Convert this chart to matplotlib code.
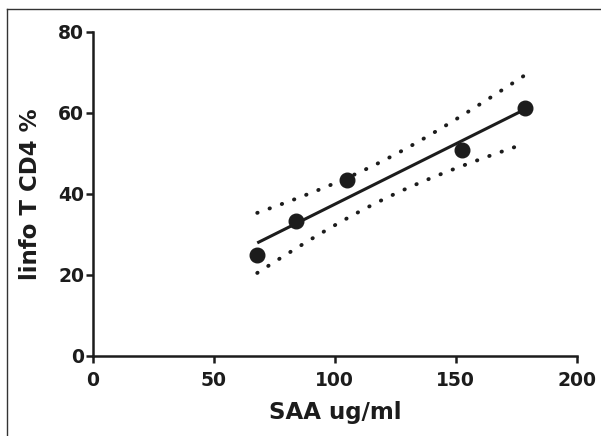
import numpy as np
import matplotlib
matplotlib.use("Agg")
import matplotlib.pyplot as plt
from matplotlib.lines import Line2D

# data
saa = [68.0, 83.8, 105.0, 152.6, 178.7]
cd4 = [25.0, 33.2, 43.3, 50.7, 61.2]
xticks = [0, 50, 100, 150, 200]
yticks = [0, 20, 40, 60, 80]

x = np.array(saa)
y = np.array(cd4)
n = len(x)

# linear fit + 95% confidence band
slope, icpt = np.polyfit(x, y, 1)
res = y - (slope * x + icpt)
s = np.sqrt(np.sum(res ** 2) / (n - 2))
sxx = np.sum((x - x.mean()) ** 2)
t95 = 3.182  # t(0.975, df=3)
xf = np.linspace(x.min(), x.max(), 200)
yf = slope * xf + icpt
half = t95 * s * np.sqrt(1.0 / n + (xf - x.mean()) ** 2 / sxx)

plt.rcParams['font.family'] = ['DejaVu Sans']
plt.rcParams['font.weight'] = 'bold'
ink = '#1c1c1c'

fig = plt.figure(figsize=(6.01, 4.36), dpi=100)
ax = fig.add_axes([0.154, 0.184, 0.806, 0.743])

ax.plot(xf, yf, color=ink, lw=2.2, solid_capstyle='butt')
ax.plot(xf, yf + half, color=ink, lw=2.8, linestyle=(0, (0.1, 3.25)),
        dash_capstyle='round')
ax.plot(xf, yf - half, color=ink, lw=2.8, linestyle=(0, (0.1, 3.25)),
        dash_capstyle='round')
ax.plot(x, y, 'o', color=ink, ms=10.5, zorder=5)

ax.set_xlim(0, 200)
ax.set_ylim(0, 80)
ax.set_xticks(xticks)
ax.set_yticks(yticks)
for sp in ['top', 'right']:
    ax.spines[sp].set_visible(False)
for sp in ['left', 'bottom']:
    ax.spines[sp].set_linewidth(1.8)
    ax.spines[sp].set_color(ink)
ax.tick_params(axis='both', length=5, width=1.8, color=ink, labelsize=13.5,
               labelcolor=ink)
ax.tick_params(axis='x', pad=6)
ax.tick_params(axis='y', pad=1)

ax.set_xlabel('SAA ug/ml', fontsize=16.5, fontweight='bold', color=ink,
              labelpad=8)
ax.set_ylabel('linfo T CD4 %', fontsize=16.5, fontweight='bold', color=ink,
              labelpad=12)

# thin frame on top and left of the picture
fig.add_artist(Line2D([0.012, 1.0], [0.979, 0.979], color='#333333', lw=1.0))
fig.add_artist(Line2D([0.012, 0.012], [0.0, 0.979], color='#333333', lw=1.0))

fig.savefig('out.png', dpi=100)
